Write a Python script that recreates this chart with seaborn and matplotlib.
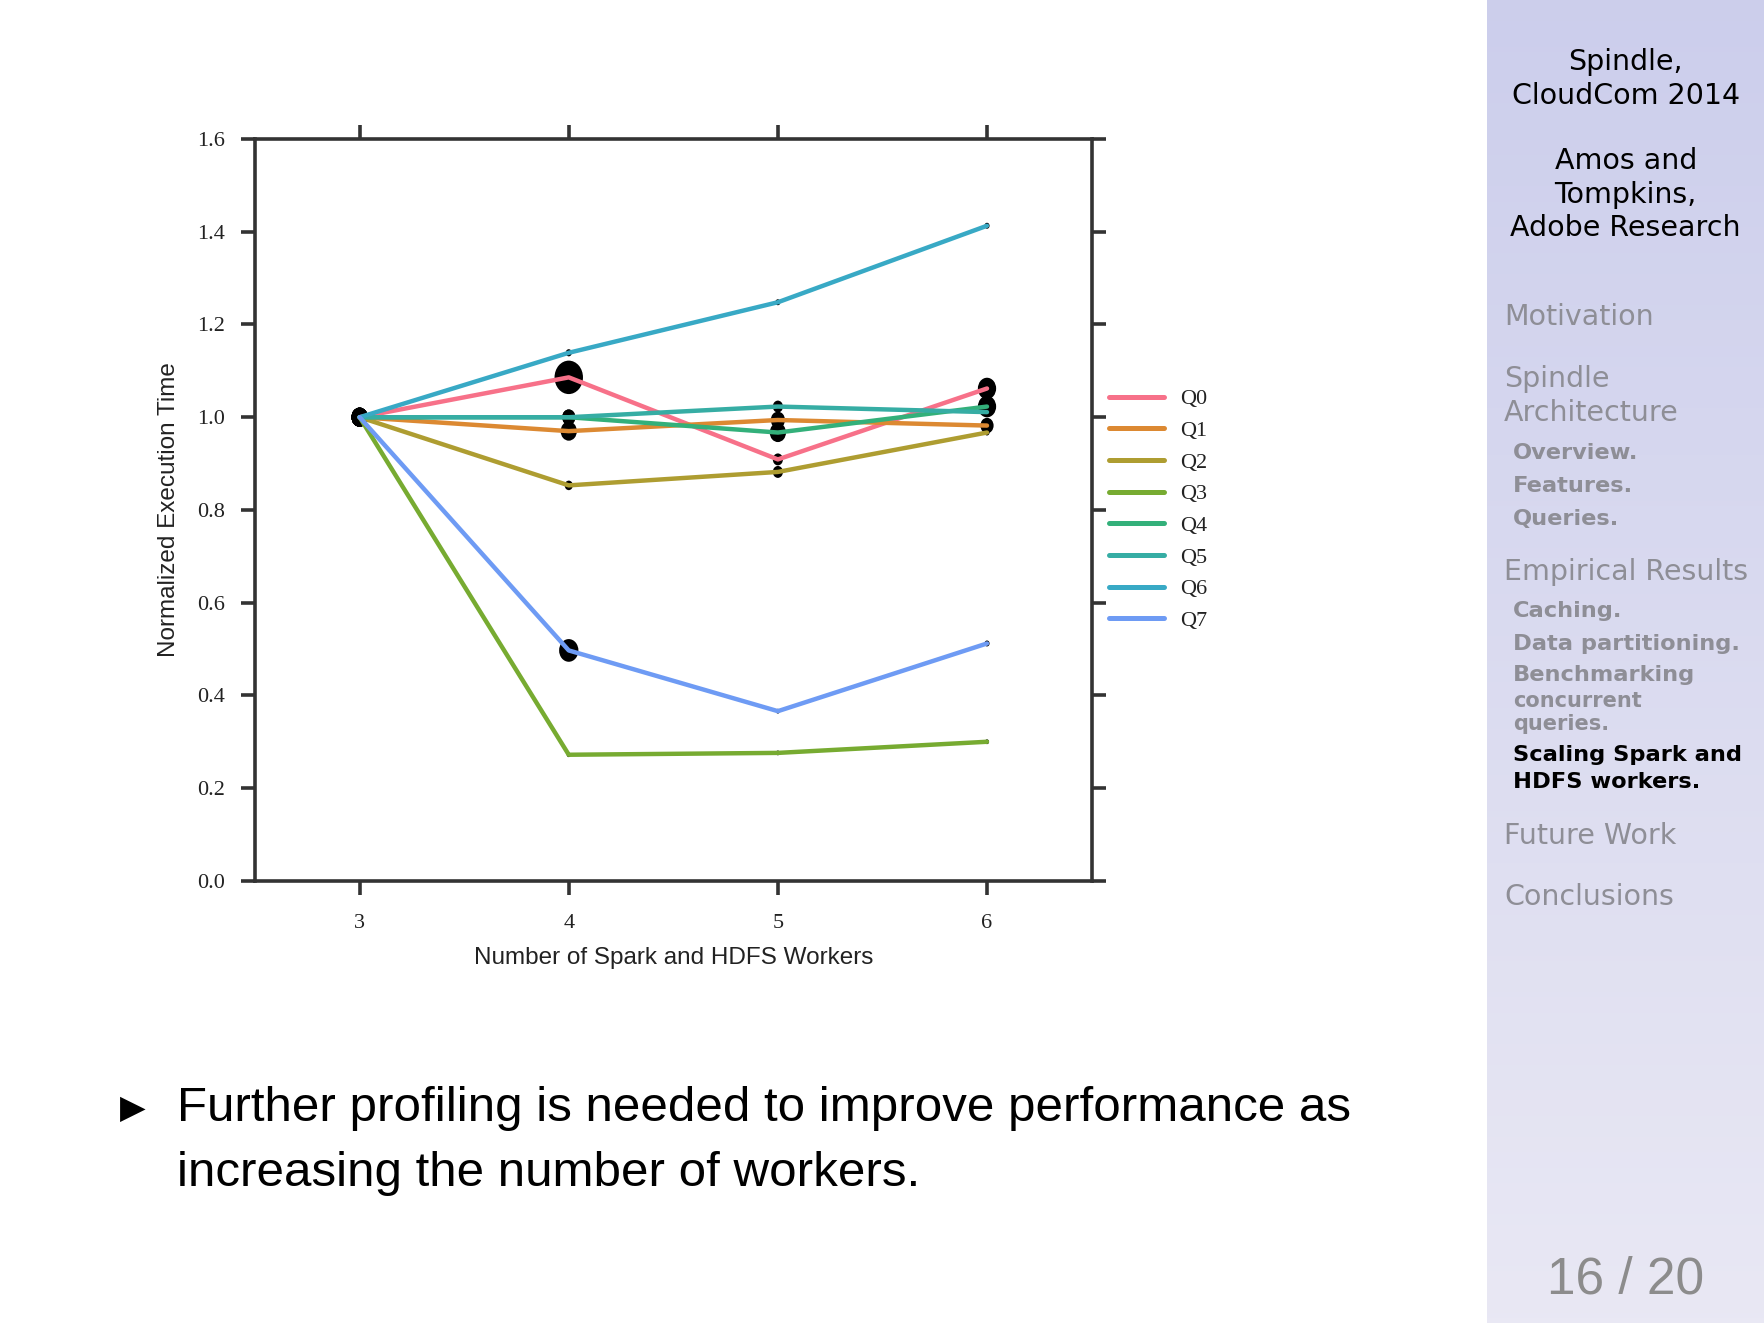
import numpy as np
import pandas as pd
import matplotlib
matplotlib.use("Agg")
import matplotlib.pyplot as plt
from matplotlib.path import Path
from matplotlib.transforms import Affine2D
import seaborn as sns

# --- data ---
workers = [3, 4, 5, 6]
queries = ["Q0", "Q1", "Q2", "Q3", "Q4", "Q5", "Q6", "Q7"]
q0 = [1.0, 1.086, 0.909, 1.062]
q1 = [1.0, 0.970, 0.994, 0.982]
q2 = [1.0, 0.853, 0.882, 0.967]
q3 = [1.0, 0.272, 0.276, 0.300]
q4 = [1.0, 1.000, 0.967, 1.023]
q5 = [1.0, 1.000, 1.023, 1.011]
q6 = [1.0, 1.139, 1.248, 1.413]
q7 = [1.0, 0.497, 0.366, 0.512]
# spread of the runs (black blobs)
e0 = [0.016, 0.028, 0.010, 0.018]
e1 = [0.016, 0.016, 0.014, 0.013]
e2 = [0.016, 0.008, 0.010, 0.005]
e3 = [0.016, 0.004, 0.004, 0.004]
e4 = [0.016, 0.013, 0.016, 0.018]
e5 = [0.016, 0.013, 0.010, 0.006]
e6 = [0.016, 0.006, 0.005, 0.005]
e7 = [0.016, 0.019, 0.004, 0.005]

yticks = [0.0, 0.2, 0.4, 0.6, 0.8, 1.0, 1.2, 1.4, 1.6]
xlabel = "Number of Spark and HDFS Workers"
ylabel = "Normalized Execution Time"
bullet_lines = ["Further profiling is needed to improve performance as",
                "increasing the number of workers."]
side_title = ["Spindle,", "CloudCom 2014", "Amos and", "Tompkins,", "Adobe Research"]
side_title_y = [0.9532, 0.9277, 0.8784, 0.8529, 0.8274]
nav_main = ["Motivation", "Spindle", "Architecture", "Empirical Results",
            "Future Work", "Conclusions"]
nav_main_y = [0.7602, 0.7134, 0.6879, 0.5680, 0.3682, 0.3223]
nav_sub = ["Overview.", "Features.", "Queries.", "Caching.", "Data partitioning.",
           "Benchmarking"]
nav_sub_y = [0.6573, 0.6327, 0.6080, 0.5383, 0.5136, 0.4898]
nav_small = ["concurrent", "queries."]
nav_small_y = [0.4702, 0.4524]
nav_active = ["Scaling Spark and", "HDFS workers."]
nav_active_y = [0.4294, 0.4090]
page = "16 / 20"

vals = [q0, q1, q2, q3, q4, q5, q6, q7]
errs = [e0, e1, e2, e3, e4, e5, e6, e7]
rows = []
for q, v, e in zip(queries, vals, errs):
    for w, y, s in zip(workers, v, e):
        rows.append({"workers": w, "time": y, "query": q, "err": s, "area": s ** 2})
df = pd.DataFrame(rows)

sns.set_style("ticks")
plt.rcParams["font.family"] = ["Liberation Serif", "DejaVu Serif"]
sans = ["Liberation Sans", "DejaVu Sans"]
ink = "#333333"

fig = plt.figure(figsize=(17.64, 13.23), dpi=100)
ax = fig.add_axes([0.1446, 0.3342, 0.4742, 0.5607])

pal = sns.color_palette("husl", 10)[:8]
blob = Affine2D().scale(0.85, 1.0).transform_path(Path.unit_circle())
maxe = df["err"].max()
sns.scatterplot(data=df, x="workers", y="time", size="area",
                sizes=(0, (maxe * 860) ** 2), size_norm=(0, maxe ** 2),
                marker=blob, color="black", edgecolor="none", legend=False,
                zorder=1, ax=ax)
sns.lineplot(data=df, x="workers", y="time", hue="query", palette=pal,
             linewidth=3.2, zorder=2, ax=ax)

ax.set_xlim(2.5, 6.5)
ax.set_ylim(0, 1.6)
ax.set_xticks(workers)
ax.set_yticks(yticks)
ax.set_yticklabels([f"{t:.1f}" for t in yticks])
ax.tick_params(direction="out", length=10, width=2.6, color=ink, pad=12,
               labelsize=16, labelcolor="#222222", top=True, right=True)
ax.tick_params(axis="x", pad=14)
for sp in ax.spines.values():
    sp.set_visible(True)
    sp.set_linewidth(2.6)
    sp.set_color(ink)
ax.set_xlabel(xlabel, family=sans, fontsize=17.5, color="#222222", labelpad=10)
ax.set_ylabel(ylabel, family=sans, fontsize=17.5, color="#222222", labelpad=12)

leg = ax.legend(loc="center left", bbox_to_anchor=(1.01, 0.5), frameon=False,
                fontsize=16, handlelength=2.5, handletextpad=0.7, labelspacing=0.5,
                borderaxespad=0)
for h in leg.get_lines():
    h.set_linewidth(3.6)
for t in leg.get_texts():
    t.set_color("#222222")

# sidebar with gradient
side = fig.add_axes([0.843, 0.0, 0.157, 1.0])
grad = np.linspace(0, 1, 256)[:, None]
top_c = np.array([0.800, 0.808, 0.925])
bot_c = np.array([0.914, 0.910, 0.957])
img = top_c[None, None, :] * (1 - grad[..., None]) + bot_c[None, None, :] * grad[..., None]
side.imshow(img, aspect="auto", extent=(0, 1, 0, 1))
side.set_axis_off()

for t, y in zip(side_title, side_title_y):
    fig.text(0.9216, y, t, ha="center", va="center", family="DejaVu Sans",
             fontsize=20.5, color="black")
for t, y in zip(nav_main, nav_main_y):
    fig.text(0.8527, y, t, ha="left", va="center", family="DejaVu Sans",
             fontsize=20.5, color="#8e8e96")
for t, y in zip(nav_sub, nav_sub_y):
    fig.text(0.8578, y, t, ha="left", va="center", family="DejaVu Sans",
             fontsize=16.2, fontweight="bold", color="#8e8e96")
for t, y in zip(nav_small, nav_small_y):
    fig.text(0.8578, y, t, ha="left", va="center", family="DejaVu Sans",
             fontsize=15, fontweight="bold", color="#8e8e96")
for t, y in zip(nav_active, nav_active_y):
    fig.text(0.8578, y, t, ha="left", va="center", family="DejaVu Sans",
             fontsize=16.2, fontweight="bold", color="black")
fig.text(0.9216, 0.0323, page, ha="center", va="center", family="Liberation Sans",
         fontsize=37, color="#8c8c8c")

# bullet text
fig.text(0.0753, 0.1624, "\u25B6", ha="center", va="center", family="DejaVu Sans",
         fontsize=24, color="black")
fig.text(0.1001, 0.1624, bullet_lines[0], ha="left", va="center", family=sans,
         fontsize=35.5, color="black")
fig.text(0.1001, 0.1131, bullet_lines[1], ha="left", va="center", family=sans,
         fontsize=35.5, color="black")

fig.savefig("out.png", dpi=100)
